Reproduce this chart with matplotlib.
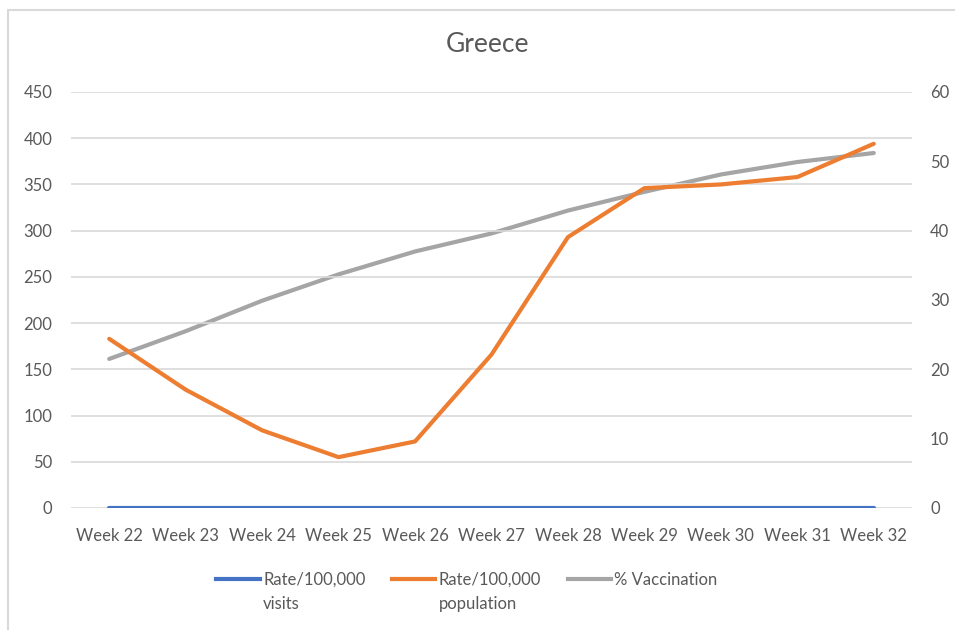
import matplotlib.pyplot as plt
from matplotlib.lines import Line2D
from matplotlib.patches import Rectangle

plt.rcParams['font.family'] = ['Lato', 'DejaVu Sans']

# -------------------------
# Data
# -------------------------
weeks = ["Week 22", "Week 23", "Week 24", "Week 25", "Week 26", "Week 27",
         "Week 28", "Week 29", "Week 30", "Week 31", "Week 32"]
rate_visits = [0, 0, 0, 0, 0, 0, 0, 0, 0, 0, 0]
rate_population = [183, 128, 84, 55, 72, 166, 293, 346, 350, 358, 394]
pct_vaccination = [21.5, 25.5, 29.9, 33.7, 37.0, 39.6, 42.9, 45.6, 48.1, 49.9, 51.2]

left_ticks = [0, 50, 100, 150, 200, 250, 300, 350, 400, 450]
right_ticks = [0, 10, 20, 30, 40, 50, 60]

# legend labels: first line next to the handle, second line wrapped below
legend_first = ["Rate/100,000", "Rate/100,000", "% Vaccination"]
legend_second = ["visits", "population", ""]

# -------------------------
# Styles
# -------------------------
c_blue = "#4472C4"
c_orange = "#ED7D31"
c_gray = "#A5A5A5"
c_text = "#595959"
c_grid = "#D9D9D9"
lw = 3.0

fig = plt.figure(figsize=(9.55, 6.3), dpi=100)
ax = fig.add_axes([71 / 955, 1 - 508 / 630, (912 - 71) / 955, (508 - 92) / 630])
ax2 = ax.twinx()

x = list(range(len(weeks)))

ax.plot(x, rate_visits, color=c_blue, linewidth=lw, solid_capstyle='round', zorder=3)
ax.plot(x, rate_population, color=c_orange, linewidth=lw, solid_capstyle='round', zorder=3)
ax2.plot(x, pct_vaccination, color=c_gray, linewidth=lw, solid_capstyle='round', zorder=2)

# orange should sit above gray
ax.set_zorder(ax2.get_zorder() + 1)
ax.patch.set_visible(False)

ax.set_xlim(-0.5, len(weeks) - 0.5)
ax.set_ylim(0, 450)
ax2.set_ylim(0, 60)
ax.set_yticks(left_ticks)
ax2.set_yticks(right_ticks)
ax.set_xticks(x)
ax.set_xticklabels(weeks)

for a in (ax, ax2):
    for s in a.spines.values():
        s.set_visible(False)
    a.tick_params(length=0, colors=c_text, labelsize=12)

ax.tick_params(axis='y', pad=13.5)
ax2.tick_params(axis='y', pad=13)
ax.tick_params(axis='x', pad=14.5)
for lab in ax2.get_yticklabels():
    lab.set_horizontalalignment('left')

ax.grid(axis='y', color=c_grid, linewidth=1.2)
ax.set_axisbelow(True)

fig.text(487 / 955, 1 - 45 / 630, "Greece", ha='center', va='center',
         fontsize=19, color=c_text)

# chart border
fig.patches.append(Rectangle((8 / 955, -0.01), 1.0, 1 - 10 / 630 + 0.01,
                             transform=fig.transFigure, fill=False,
                             edgecolor=c_grid, linewidth=1.5))

handles = [
    Line2D([0], [0], color=c, linewidth=lw, label=l)
    for c, l in zip([c_blue, c_orange, c_gray], legend_first)
]
leg = fig.legend(handles=handles, loc='center left', bbox_to_anchor=(208 / 955, 1 - 580 / 630),
                 ncol=3, frameon=False, fontsize=12, handlelength=2.6,
                 handletextpad=0.2, columnspacing=1.6, borderpad=0)
for t in leg.get_texts():
    t.set_color(c_text)

# wrapped second lines under the legend labels
fig.canvas.draw()
inv = fig.transFigure.inverted()
for t, extra in zip(leg.get_texts(), legend_second):
    if not extra:
        continue
    bb = t.get_window_extent().transformed(inv)
    fig.text(bb.x0, bb.y0 - 24 / 630, extra, ha='left', va='bottom',
             fontsize=12, color=c_text)

fig.savefig("out.png", dpi=100)
